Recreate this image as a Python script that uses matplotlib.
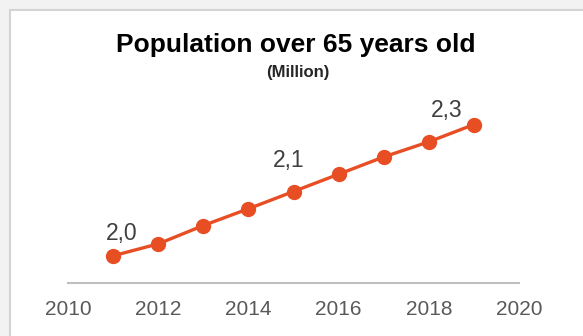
import matplotlib
import matplotlib.pyplot as plt
from matplotlib.patches import Rectangle

matplotlib.use('Agg')

years = [2011, 2012, 2013, 2014, 2015, 2016, 2017, 2018, 2019]
population = [2.021, 2.043, 2.077, 2.108, 2.140, 2.172, 2.204, 2.232, 2.264]
labelled_years = [2011, 2015, 2019]
xticks = [2010, 2012, 2014, 2016, 2018, 2020]

# pixel offsets of the data labels, as placed in the original
label_offsets = {2011: (9, 22), 2015: (-5, 31), 2019: (-27, 14)}

LINE = '#E84E24'


def main() -> None:
    plt.rcParams['font.family'] = ['Liberation Sans', 'DejaVu Sans']
    W, H = 583, 336
    fig = plt.figure(figsize=(W / 100, H / 100), dpi=100)
    fig.patch.set_facecolor('#f2f2f2')

    panel = Rectangle((9.5 / W, -0.02), 1.0, 1 - 9.5 / H + 0.02,
                      transform=fig.transFigure, facecolor='white',
                      edgecolor='#d4d4d4', linewidth=1.5, zorder=-1)
    fig.patches.append(panel)

    base = 283.3
    top = 100
    ax = fig.add_axes([68 / W, 1 - base / H, 451 / W, (base - top) / H])
    ax.set_facecolor('none')
    ax.plot(years, population, color=LINE, linewidth=2.4,
            marker='o', markersize=10, clip_on=False)

    for yr in labelled_years:
        v = population[years.index(yr)]
        dx, dy = label_offsets[yr]
        ax.annotate(f"{v:.1f}".replace('.', ','), (yr, v),
                    xytext=(dx, dy), textcoords='offset pixels',
                    ha='center', va='center', fontsize=16.5, color='#404040')

    ax.set_xlim(2010, 2020)
    ax.set_ylim(1.97, 1.97 + (base - top) / 540)
    ax.set_xticks(xticks)
    ax.set_yticks([])
    ax.tick_params(axis='x', length=0, pad=12, labelsize=15,
                   labelcolor='#595959')
    for side in ['top', 'left', 'right']:
        ax.spines[side].set_visible(False)
    ax.spines['bottom'].set_color('#bfbfbf')
    ax.spines['bottom'].set_linewidth(1.5)

    fig.text(296 / W, 1 - 45 / H, "Population over 65 years old",
             ha='center', va='center', fontsize=19, fontweight='bold')
    fig.text(298 / W, 1 - 72 / H, "(Million)",
             ha='center', va='center', fontsize=12, fontweight='bold',
             color='#262626')

    fig.savefig("out.png", dpi=100)

    return None


if __name__ == "__main__":
    main()
